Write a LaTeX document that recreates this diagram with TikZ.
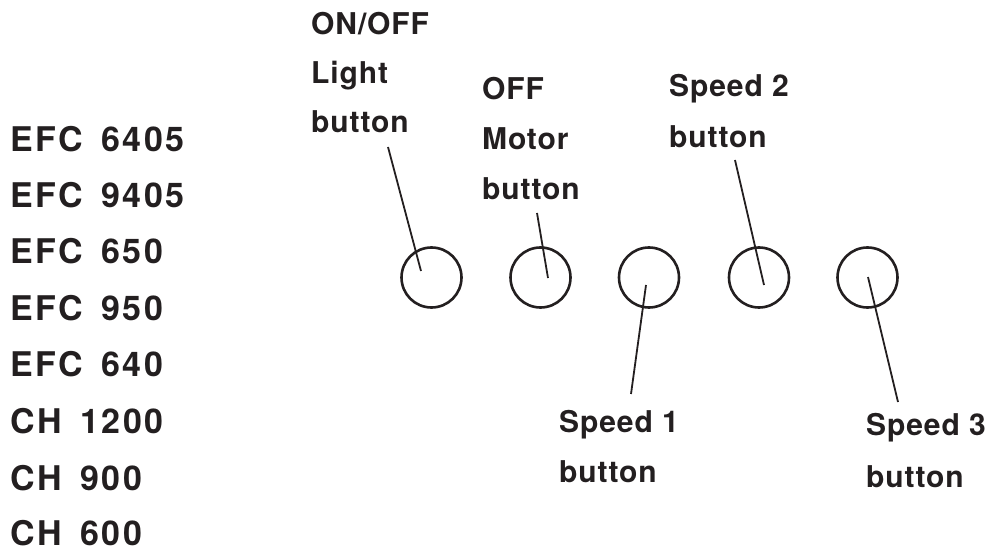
\documentclass[tikz,border=0pt]{standalone}
\usepackage{fontspec}
\setmainfont{TeX Gyre Heros}
\newfontfamily\modelfont[LetterSpace=7]{TeX Gyre Heros}
\newfontfamily\lblfont[LetterSpace=3]{TeX Gyre Heros}
\definecolor{ink}{HTML}{231F20}
\newcommand{\gapsp}{\hspace{0.55em}}
\begin{document}
\begin{tikzpicture}[x=1bp,y=-1bp,
  model/.style={anchor=base west,inner sep=0pt,text depth=0pt,text=ink,font=\modelfont\bfseries\fontsize{34bp}{40bp}\selectfont},
  lbl/.style={anchor=base west,inner sep=0pt,text=ink,font=\lblfont\bfseries\fontsize{30bp}{36bp}\selectfont},
  knob/.style={circle,draw=ink,line width=2.6bp,minimum size=60bp,inner sep=0pt},
  lead/.style={draw=ink,line width=1.8bp}]
\useasboundingbox (0,0) rectangle (993,549);
% model list
\node[model] (m1) at (10,151.7) {EFC\gapsp 6405};
\node[model] (m2) at (10,208) {EFC\gapsp 9405};
\node[model] (m3) at (10,264) {EFC\gapsp 650};
\node[model] (m4) at (10,320.5) {EFC\gapsp 950};
\node[model] (m5) at (10,377) {EFC\gapsp 640};
\node[model] (m6) at (10,433) {CH\gapsp 1200};
\node[model] (m7) at (10,490) {CH\gapsp 900};
\node[model] (m8) at (10,545) {CH\gapsp 600};
% buttons
\node[knob] (b1) at (431.5,277.5) {};
\node[knob] (b2) at (540.5,277.5) {};
\node[knob] (b3) at (649,277.5) {};
\node[knob] (b4) at (759,277.5) {};
\node[knob] (b5) at (867.5,277.5) {};
% labels
\node[lbl] (l1a) at (311,35) {ON/OFF};
\node[lbl] (l1b) at (311,83.5) {Light};
\node[lbl] (l1c) at (311,133) {button};
\node[lbl] (l2a) at (482,100) {OFF};
\node[lbl] (l2b) at (482,150) {Motor};
\node[lbl] (l2c) at (482,200) {button};
\node[lbl] (l3a) at (559,432) {Speed 1};
\node[lbl] (l3b) at (559,482) {button};
\node[lbl] (l4a) at (669,97) {Speed 2};
\node[lbl] (l4b) at (669,148) {button};
\node[lbl] (l5a) at (866,435) {Speed 3};
\node[lbl] (l5b) at (866,487) {button};
% leader ends
\coordinate (s1) at (388,147);  \coordinate (e1) at (421,271);
\coordinate (s2) at (537,213);  \coordinate (e2) at (548,278);
\coordinate (s3) at (631,394);  \coordinate (e3) at (646,285);
\coordinate (s4) at (735,160);  \coordinate (e4) at (764,285);
\coordinate (s5) at (898,402);  \coordinate (e5) at (868,277);
\draw[lead] (s1) -- (e1);
\draw[lead] (s2) -- (e2);
\draw[lead] (s3) -- (e3);
\draw[lead] (s4) -- (e4);
\draw[lead] (s5) -- (e5);
\end{tikzpicture}
\end{document}
